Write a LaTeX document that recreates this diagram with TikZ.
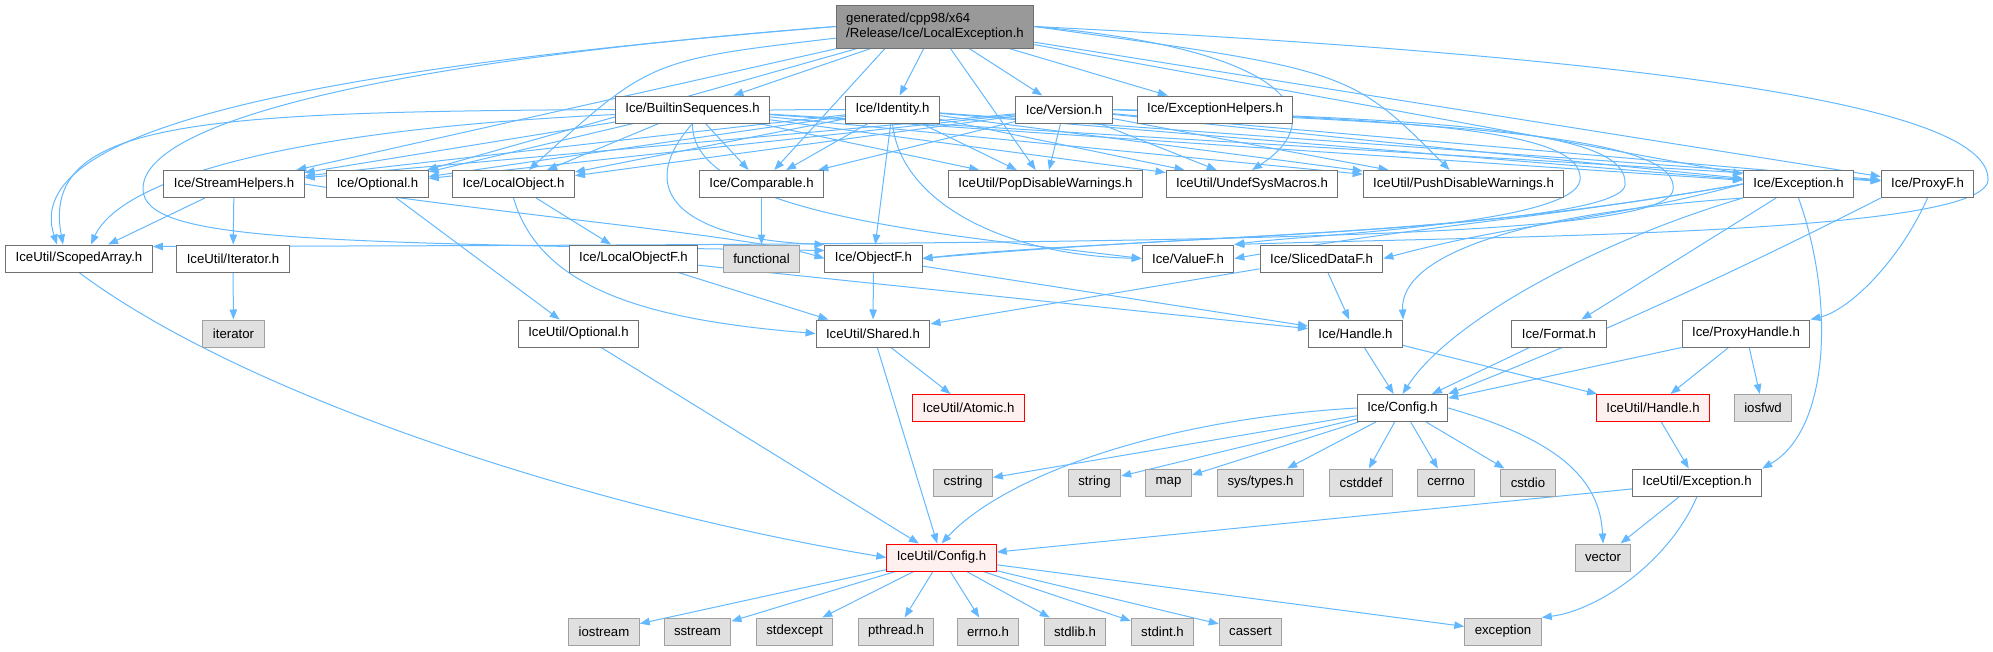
\documentclass[tikz,border=0pt]{standalone}
\usepackage{fontspec}
\setmainfont{Liberation Sans}
\usetikzlibrary{arrows.meta,backgrounds}
\definecolor{edgeblue}{HTML}{63B8FF}
\definecolor{boxgrey}{HTML}{707070}
\definecolor{sysgrey}{HTML}{A0A0A0}
\definecolor{sysfill}{HTML}{E0E0E0}
\definecolor{mainfill}{HTML}{999999}
\definecolor{truncfill}{HTML}{FFF0F0}
\tikzset{file node/.style={draw=boxgrey, fill=white, line width=1pt, minimum height=27pt,
    inner xsep=10pt, inner ysep=0pt, font=\fontsize{13.2}{15}\selectfont}}
\tikzset{sys node/.style={file node, draw=sysgrey, fill=sysfill}}
\tikzset{trunc node/.style={file node, draw=red, fill=truncfill}}
\tikzset{main node/.style={file node, fill=mainfill, minimum height=43pt, align=left}}
\tikzset{dep edge/.style={draw=edgeblue, line width=1pt, -{Triangle[length=10pt,width=7.5pt]}}}

\begin{document}
\begin{tikzpicture}[x=1pt,y=-1pt]
\useasboundingbox (0,0) rectangle (1993,651);
% row 0 and 1
\node[main node] (main) at (935,26.5) {generated/cpp98/x64\\/Release/Ice/LocalException.h};
\node[file node] (bseq) at (692.5,109.5) {Ice/BuiltinSequences.h};
\node[file node] (ident) at (892.5,109.5) {Ice/Identity.h};
\node[file node] (vers) at (1064,109.5) {Ice/Version.h};
\node[file node] (exch) at (1215,109.5) {Ice/ExceptionHelpers.h};
% row 2
\node[file node] (strh) at (234,184) {Ice/StreamHelpers.h};
\node[file node] (opt) at (377.5,184) {Ice/Optional.h};
\node[file node] (lobj) at (513.5,184) {Ice/LocalObject.h};
\node[file node] (cmp) at (761.5,184) {Ice/Comparable.h};
\node[file node] (popw) at (1045.5,184) {IceUtil/PopDisableWarnings.h};
\node[file node] (undef) at (1252,184) {IceUtil/UndefSysMacros.h};
\node[file node] (pushw) at (1463.5,184) {IceUtil/PushDisableWarnings.h};
\node[file node] (exc) at (1798.5,184) {Ice/Exception.h};
\node[file node] (proxf) at (1927.5,184) {Ice/ProxyF.h};
% row 3
\node[file node] (scarr) at (79,258.5) {IceUtil/ScopedArray.h};
\node[file node] (iter) at (233,258.5) {IceUtil/Iterator.h};
\node[file node] (lobjf) at (633.5,258.5) {Ice/LocalObjectF.h};
\node[sys node] (func) at (761.5,258.5) {functional};
\node[file node] (objf) at (873.5,258.5) {Ice/ObjectF.h};
\node[file node] (valf) at (1188,258.5) {Ice/ValueF.h};
\node[file node] (slicf) at (1321.5,258.5) {Ice/SlicedDataF.h};
% row 4
\node[sys node] (iterstd) at (233.5,333.5) {iterator};
\node[file node] (uopt) at (578.5,333.5) {IceUtil/Optional.h};
\node[file node] (shared) at (873,333.5) {IceUtil/Shared.h};
\node[file node] (hndl) at (1355.5,333.5) {Ice/Handle.h};
\node[file node] (fmt) at (1559,333.5) {Ice/Format.h};
\node[file node] (proxh) at (1746,333.5) {Ice/ProxyHandle.h};
% row 5
\node[trunc node] (atomic) at (968.5,408) {IceUtil/Atomic.h};
\node[file node] (iconf) at (1402.5,408) {Ice/Config.h};
\node[trunc node] (uhndl) at (1653,408) {IceUtil/Handle.h};
\node[sys node] (iosfwd) at (1763,408) {iosfwd};
% row 6
\node[sys node] (cstring) at (963,482.5) {cstring};
\node[sys node] (string) at (1094.5,482.5) {string};
\node[sys node] (map) at (1168.5,482.5) {map};
\node[sys node] (systypes) at (1260.5,482.5) {sys/types.h};
\node[sys node] (cstddef) at (1361,482.5) {cstddef};
\node[sys node] (cerrno) at (1446,482.5) {cerrno};
\node[sys node] (cstdio) at (1528,482.5) {cstdio};
\node[file node] (uexc) at (1697,482.5) {IceUtil/Exception.h};
% row 7 and 8
\node[trunc node] (uconf) at (941.5,557.5) {IceUtil/Config.h};
\node[sys node] (vector) at (1603,557.5) {vector};
\node[sys node] (iostream) at (604,631.5) {iostream};
\node[sys node] (sstream) at (697.5,631.5) {sstream};
\node[sys node] (stdexcept) at (794.5,631.5) {stdexcept};
\node[sys node] (pthread) at (896,631.5) {pthread.h};
\node[sys node] (errnoh) at (988,631.5) {errno.h};
\node[sys node] (stdlib) at (1075,631.5) {stdlib.h};
\node[sys node] (stdint) at (1162.5,631.5) {stdint.h};
\node[sys node] (cassert) at (1250.5,631.5) {cassert};
\node[sys node] (except) at (1503,631.5) {exception};

\begin{pgfonlayer}{background}
% LocalException.h
\foreach \dst in {bseq,ident,vers,exch,popw,exc,proxf,strh,opt}
  \draw[dep edge] (main) -- (\dst);
\draw[dep edge] ([xshift=-50pt]main.south) -- (cmp);
\draw[dep edge] (main) .. controls (650,60) .. (lobj);
\draw[dep edge] (main.east) .. controls (1350,70) .. (pushw);
\draw[dep edge] (main.east) .. controls (1300,50) and (1330,120) .. (undef.north);
\draw[dep edge] (main.west) .. controls (300,70) and (20,130) .. ([xshift=-22pt]scarr.north);
\draw[dep edge] (main.west) .. controls (400,60) and (140,120) .. (143,190)
  .. controls (146,240) and (300,243) .. ([yshift=8pt]objf.west);
\draw[dep edge] (main.east) .. controls (1700,60) and (1990,110) .. (1988,180)
  .. controls (1985,235) and (1500,236) .. (valf.north east);
% generated headers
\foreach \src in {bseq,ident,vers}
  \foreach \dst in {strh,opt,lobj,cmp,popw,undef,pushw,exc,proxf}
    \draw[dep edge] (\src) -- (\dst);
\draw[dep edge] (bseq.west) .. controls (200,112) and (40,120) .. ([xshift=-16pt]scarr.north);
\draw[dep edge] (bseq.south) .. controls (625,200) and (700,240) .. (objf.north west);
\draw[dep edge] (bseq.south) .. controls (690,215) and (950,235) .. (valf.west);
\draw[dep edge] (ident.west) .. controls (300,110) and (120,180) .. ([xshift=12pt]scarr.north);
\draw[dep edge] (ident) -- (objf);
\draw[dep edge] (ident.south) .. controls (900,200) and (1000,255) .. (valf.west);
\draw[dep edge] (vers.east) .. controls (1500,125) and (1680,140) .. (1673,190)
  .. controls (1665,240) and (1200,244) .. ([yshift=12pt]scarr.east);
\draw[dep edge] (vers.east) .. controls (1450,120) and (1630,130) .. (1625,185)
  .. controls (1620,232) and (1100,238) .. (objf.east);
\draw[dep edge] (vers.east) .. controls (1420,120) and (1585,130) .. (1580,180)
  .. controls (1575,225) and (1300,235) .. (valf.north east);
% Ice/Exception.h and Ice/ProxyF.h
\draw[dep edge] (exc.west) to[out=190,in=5] (objf.east);
\draw[dep edge] (exc.west) to[out=190,in=10] (valf.east);
\draw[dep edge] (exc.west) to[out=195,in=15] (slicf.east);
\draw[dep edge] (exc.south west) .. controls (1500,215) and (1400,260) .. (hndl.north east);
\draw[dep edge] (exc) -- (fmt);
\draw[dep edge] (exc.south west) .. controls (1600,240) and (1450,320) .. (iconf.north);
\draw[dep edge] (exc.south) .. controls (1835,300) and (1830,430) .. (uexc.north east);
\draw[dep edge] (proxf.south west) .. controls (1700,290) and (1560,350) .. (iconf.north east);
\draw[dep edge] (proxf.south) .. controls (1900,260) and (1850,310) .. (proxh.north east);
% middle layers
\draw[dep edge] (strh) -- (scarr);
\draw[dep edge] (strh) -- (iter);
\draw[dep edge] (strh.east) .. controls (500,215) and (750,235) .. (objf.west);
\draw[dep edge] (opt) -- (uopt);
\draw[dep edge] (lobj) -- (lobjf);
\draw[dep edge] (lobj.south) .. controls (540,290) and (650,320) .. (shared.west);
\draw[dep edge] (cmp) -- (func);
\draw[dep edge] (iter) -- (iterstd);
\foreach \src in {lobjf,objf,slicf} {
  \draw[dep edge] (\src) -- (shared);
  \draw[dep edge] (\src) -- (hndl);
}
\draw[dep edge] (scarr.south) .. controls (250,400) and (600,510) .. (uconf.west);
\draw[dep edge] (uopt) -- (uconf);
\draw[dep edge] (shared) -- (atomic);
\draw[dep edge] (shared) -- (uconf);
\draw[dep edge] (hndl) -- (iconf);
\draw[dep edge] (hndl) -- (uhndl);
\draw[dep edge] (fmt) -- (iconf);
\foreach \dst in {iconf,uhndl,iosfwd}
  \draw[dep edge] (proxh) -- (\dst);
% config headers
\foreach \dst in {cstring,string,map,systypes,cstddef,cerrno,cstdio}
  \draw[dep edge] (iconf) -- (\dst);
\draw[dep edge] (iconf.east) .. controls (1560,440) and (1600,480) .. (vector.north);
\draw[dep edge] (iconf.west) .. controls (1150,420) and (1000,480) .. (uconf.north);
\draw[dep edge] (uhndl) -- (uexc);
\draw[dep edge] (uexc) -- (uconf);
\draw[dep edge] (uexc) -- (vector);
\draw[dep edge] (uexc.south) .. controls (1670,560) and (1600,610) .. (except.north east);
\foreach \dst in {iostream,sstream,stdexcept,pthread,errnoh,stdlib,stdint,cassert,except}
  \draw[dep edge] (uconf) -- (\dst);
\end{pgfonlayer}
\end{tikzpicture}
\end{document}
